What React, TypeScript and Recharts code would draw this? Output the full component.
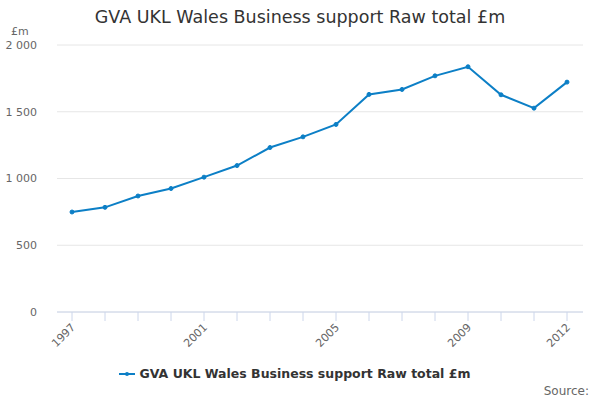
import { LineChart, Line, XAxis, YAxis, CartesianGrid, Legend } from "recharts";

const years = ["1997", "1998", "1999", "2000", "2001", "2002", "2003", "2004", "2005", "2006", "2007", "2008", "2009", "2010", "2011", "2012"];
const gvaTotal = [749, 784, 869, 925, 1010, 1097, 1232, 1312, 1405, 1630, 1667, 1769, 1837, 1627, 1527, 1722];
const labelledYears = ["1997", "2001", "2005", "2009", "2012"];
const yTicks = [0, 500, 1000, 1500, 2000];

const SERIES = "GVA UKL Wales Business support Raw total £m";
const BLUE = "#0c7fc6";
const FONT = "'DejaVu Sans', sans-serif";

const data = years.map((year, i) => ({ year, value: gvaTotal[i] }));

const fmt = (v: number) => String(v).replace(/\B(?=(\d{3})+(?!\d))/g, " ");

function YearTick({ x, y, payload }: any) {
  if (!labelledYears.includes(payload.value)) return null;
  return (
    <text
      x={x + 4}
      y={y + 5}
      transform={`rotate(-45, ${x + 4}, ${y + 5})`}
      textAnchor="end"
      fontSize={11}
      fill="#666"
      fontFamily={FONT}
    >
      {payload.value}
    </text>
  );
}

function LegendBox() {
  return (
    <div style={{ display: "flex", justifyContent: "center", alignItems: "center", fontFamily: FONT, marginTop: 10, marginLeft: 6 }}>
      <svg width={16} height={10} style={{ marginRight: 5 }}>
        <line x1={0} y1={5} x2={16} y2={5} stroke={BLUE} strokeWidth={2} />
        <circle cx={8} cy={5} r={2} fill={BLUE} />
      </svg>
      <span style={{ fontSize: 12.5, fontWeight: "bold", color: "#333" }}>{SERIES}</span>
    </div>
  );
}

export default function App() {
  return (
    <div style={{ position: "absolute", left: 0, top: 0, width: 600, height: 400, background: "#fff", fontFamily: FONT }}>
      <div style={{ position: "absolute", top: 7, width: 600, textAlign: "center", fontSize: 17.5, color: "#333" }}>
        {SERIES}
      </div>
      <div style={{ position: "absolute", left: 11, top: 25, fontSize: 11, color: "#666" }}>£m</div>
      <LineChart width={600} height={400} data={data} margin={{ top: 45, right: 17, bottom: 14, left: 0 }}>
        <CartesianGrid vertical={false} stroke="#e6e6e6" />
        <XAxis
          dataKey="year"
          interval={0}
          padding={{ left: 15, right: 16 }}
          height={44}
          tickSize={9}
          tickMargin={2}
          stroke="#ccd6eb"
          tick={<YearTick />}
        />
        <YAxis
          domain={[0, 2000]}
          ticks={yTicks}
          width={57}
          axisLine={false}
          tickLine={false}
          tickFormatter={fmt}
          tick={{ fontSize: 11, fill: "#666", fontFamily: FONT }}
          tickMargin={14}
        />
        <Legend verticalAlign="bottom" height={30} content={<LegendBox />} />
        <Line
          dataKey="value"
          name={SERIES}
          stroke={BLUE}
          strokeWidth={2}
          dot={{ r: 2, fill: BLUE, stroke: BLUE, strokeWidth: 1 }}
          isAnimationActive={false}
        />
      </LineChart>
      <div style={{ position: "absolute", right: 11, top: 384, fontSize: 12, color: "#666" }}>Source:</div>
    </div>
  );
}
